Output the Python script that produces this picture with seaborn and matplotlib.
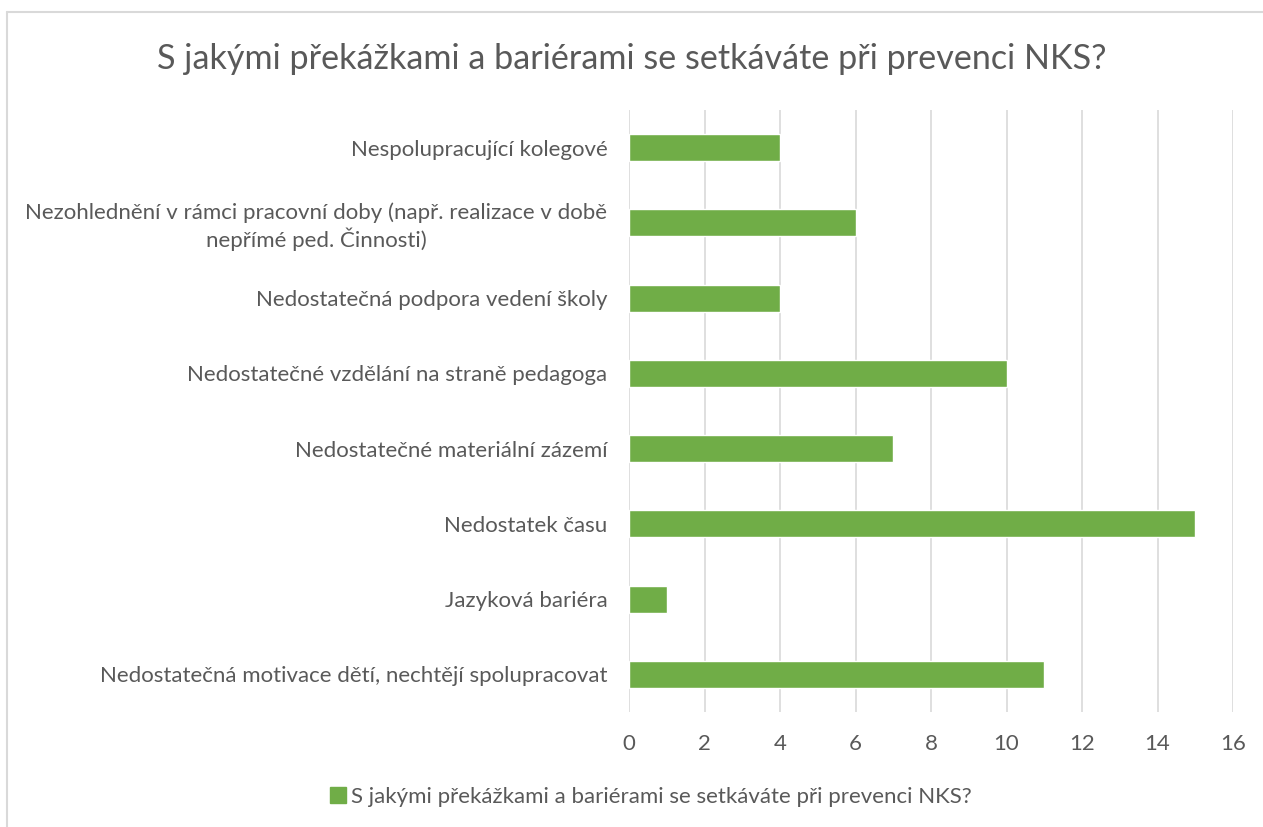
import matplotlib
matplotlib.use("Agg")
import matplotlib.pyplot as plt
import seaborn as sns
import pandas as pd
from matplotlib.lines import Line2D
from matplotlib.patches import Patch

categories = [
    "Nespolupracující kolegové",
    "Nezohlednění v rámci pracovní doby (např. realizace v době\nnepřímé ped. Činnosti)",
    "Nedostatečná podpora vedení školy",
    "Nedostatečné vzdělání na straně pedagoga",
    "Nedostatečné materiální zázemí",
    "Nedostatek času",
    "Jazyková bariéra",
    "Nedostatečná motivace dětí, nechtějí spolupracovat",
]
values = [4, 6, 4, 10, 7, 15, 1, 11]
series_name = "S jakými překážkami a bariérami se setkáváte při prevenci NKS?"
title = "S jakými překážkami a bariérami se setkáváte při prevenci NKS?"
xticks = [0, 2, 4, 6, 8, 10, 12, 14, 16]

sns.set_theme(style="white")
plt.rcParams["font.family"] = ["Lato", "DejaVu Sans"]

GREEN = "#70AD47"
TXT = "#595959"
GRID = "#D9D9D9"

df = pd.DataFrame({"cat": categories, "val": values})

fig = plt.figure(figsize=(12.63, 8.27), dpi=100)
ax = fig.add_axes([629 / 1263, 1 - 712 / 827, (1233 - 629) / 1263, (712 - 110) / 827])

sns.barplot(data=df, y="cat", x="val", orient="h", color=GREEN, width=0.36,
            saturation=1, ax=ax)

ax.set_xlim(0, 16)
ax.set_ylim(len(categories) - 0.5, -0.5)
ax.set_xticks(xticks)
ax.set_xticklabels([str(t) for t in xticks])
ax.grid(axis="x", color=GRID, linewidth=1.2)
ax.set_axisbelow(True)
for s in ax.spines.values():
    s.set_visible(False)
ax.set_xlabel("")
ax.set_ylabel("")
ax.tick_params(axis="x", colors=TXT, labelsize=16, length=0, pad=16)
ax.tick_params(axis="y", colors=TXT, labelsize=16, length=0, pad=15.5)
for lbl in ax.get_yticklabels():
    lbl.set_multialignment("center")

fig.text(0.5, 1 - 59 / 827, title, ha="center", va="center", fontsize=24.6, color=TXT)

handles = [Patch(facecolor=GREEN, edgecolor=GREEN, label=series_name)]
fig.legend(handles=handles, loc="center", bbox_to_anchor=(651 / 1263, 1 - 797 / 827),
           frameon=False, fontsize=16, labelcolor=TXT, handlelength=0.7, handleheight=0.7,
           handletextpad=0.25)

# chart-area border
fig.add_artist(Line2D([7 / 1263, 7 / 1263], [0, 1 - 12 / 827], color="#D9D9D9", lw=1.5,
                      transform=fig.transFigure))
fig.add_artist(Line2D([7 / 1263, 1], [1 - 12 / 827, 1 - 12 / 827], color="#D9D9D9", lw=1.5,
                      transform=fig.transFigure))

fig.savefig("out.png", dpi=100)
